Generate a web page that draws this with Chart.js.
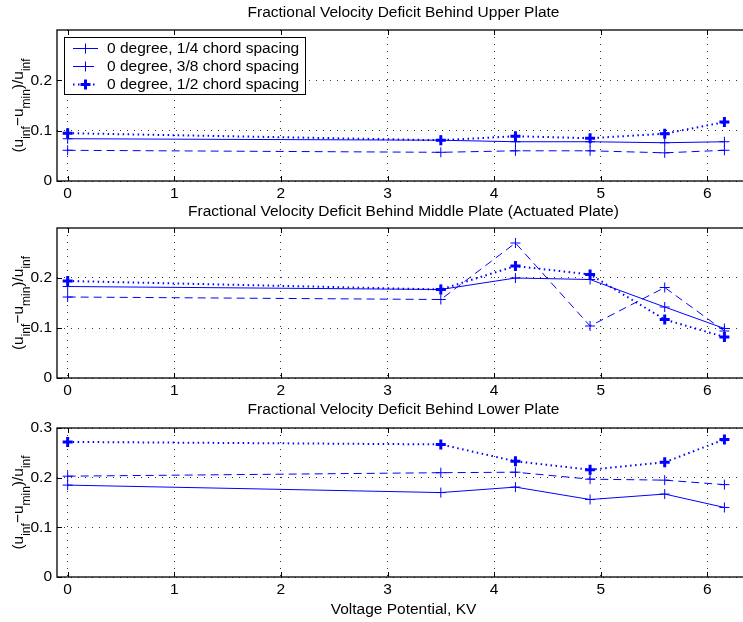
<!DOCTYPE html>
<html>
<head>
<meta charset="utf-8">
<script src="https://cdn.jsdelivr.net/npm/chart.js@4.4.1/dist/chart.umd.min.js"></script>
<style>
  body { margin: 0; background: #fff; }
  #wrap { position: relative; width: 743px; height: 622px; overflow: hidden; background: #fff; }
  canvas { position: absolute; left: 0; }
</style>
</head>
<body>
<div id="wrap">
  <canvas id="c1" width="760" height="200" style="top:0px"></canvas>
  <canvas id="c2" width="760" height="200" style="top:200px"></canvas>
  <canvas id="c3" width="760" height="222" style="top:400px"></canvas>
</div>
<script>
// voltage (KV) at which each measurement was taken
const xValues = [0, 3.5, 4.2, 4.9, 5.6, 6.16];

// upper plate
const upperQuarter = [0.084, 0.081, 0.078, 0.078, 0.076, 0.078];
const upperThreeEighth = [0.061, 0.057, 0.060, 0.060, 0.056, 0.061];
const upperHalf = [0.095, 0.081, 0.089, 0.085, 0.094, 0.117];

// middle plate (actuated)
const middleQuarter = [0.183, 0.177, 0.200, 0.197, 0.142, 0.099];
const middleThreeEighth = [0.162, 0.157, 0.270, 0.104, 0.181, 0.094];
const middleHalf = [0.194, 0.177, 0.224, 0.207, 0.117, 0.082];

// lower plate
const lowerQuarter = [0.185, 0.170, 0.181, 0.156, 0.167, 0.140];
const lowerThreeEighth = [0.203, 0.210, 0.211, 0.197, 0.195, 0.186];
const lowerHalf = [0.272, 0.267, 0.233, 0.216, 0.231, 0.277];

const seriesLabels = ['0 degree, 1/4 chord spacing', '0 degree, 3/8 chord spacing', '0 degree, 1/2 chord spacing'];
const panelTitles = [
  'Fractional Velocity Deficit Behind Upper Plate',
  'Fractional Velocity Deficit Behind Middle Plate (Actuated Plate)',
  'Fractional Velocity Deficit Behind Lower Plate'
];
const xTickValues = [0, 1, 2, 3, 4, 5, 6];
const yTicksShort = [0, 0.1, 0.2];
const yTicksLong = [0, 0.1, 0.2, 0.3];
const xAxisLabel = 'Voltage Potential, KV';

const FONT = '"Liberation Sans", Arial, Helvetica, sans-serif';
const FS = 15.5;
const BLUE = 'rgb(0,0,255)';

function toPoints(arr) {
  return xValues.map((x, i) => ({ x: x, y: arr[i] }));
}

function makeDatasets(quarter, threeEighth, half) {
  return [
    { label: seriesLabels[0], data: toPoints(quarter), borderColor: BLUE, borderWidth: 1,
      pointStyle: 'cross', pointRadius: 5, pointBorderWidth: 1, pointBorderColor: BLUE },
    { label: seriesLabels[1], data: toPoints(threeEighth), borderColor: BLUE, borderWidth: 1, borderDash: [8, 5],
      pointStyle: 'cross', pointRadius: 5, pointBorderWidth: 1, pointBorderColor: BLUE },
    { label: seriesLabels[2], data: toPoints(half), borderColor: BLUE, borderWidth: 2, borderDash: [1.5, 3.5],
      pointStyle: 'cross', pointRadius: 5, pointBorderWidth: 3, pointBorderColor: BLUE }
  ].map(d => Object.assign(d, { fill: false, tension: 0, pointHoverRadius: 5 }));
}

// frame, inward ticks, title, y label, legend
const decor = {
  id: 'decor',
  beforeDatasetsDraw(chart, args, opts) {
    const ctx = chart.ctx;
    const a = chart.chartArea;
    const xs = chart.scales.x, ys = chart.scales.y;
    ctx.save();
    ctx.strokeStyle = '#000';
    ctx.lineWidth = 1.3;
    ctx.strokeRect(a.left, a.top, a.right - a.left, a.bottom - a.top);
    ctx.lineWidth = 1;
    ctx.beginPath();
    xs.ticks.forEach(t => {
      const px = Math.round(xs.getPixelForValue(t.value)) + 0.5;
      ctx.moveTo(px, a.bottom); ctx.lineTo(px, a.bottom - 5);
      ctx.moveTo(px, a.top); ctx.lineTo(px, a.top + 5);
    });
    ys.ticks.forEach(t => {
      const py = Math.round(ys.getPixelForValue(t.value)) + 0.5;
      ctx.moveTo(a.left, py); ctx.lineTo(a.left + 5, py);
    });
    ctx.stroke();
    ctx.restore();
  },
  afterDraw(chart, args, opts) {
    const ctx = chart.ctx;
    const a = chart.chartArea;
    const cx = (a.left + a.right) / 2;
    ctx.save();
    ctx.fillStyle = '#000';
    ctx.textAlign = 'center';
    ctx.textBaseline = 'middle';
    ctx.font = FS + 'px ' + FONT;
    ctx.fillText(opts.title, cx, opts.titleY);
    if (opts.xLabel) ctx.fillText(opts.xLabel, cx, opts.xLabelY);

    // y label with subscripts
    const parts = [['(u', 0], ['inf', 1], ['\u2212u', 0], ['min', 1], [')/u', 0], ['inf', 1]];
    const big = FS + 'px ' + FONT, small = '12px ' + FONT;
    let total = 0;
    parts.forEach(p => { ctx.font = p[1] ? small : big; total += ctx.measureText(p[0]).width; });
    ctx.translate(23, (a.top + a.bottom) / 2);
    ctx.rotate(-Math.PI / 2);
    ctx.textAlign = 'left';
    ctx.textBaseline = 'alphabetic';
    let x = -total / 2;
    parts.forEach(p => {
      ctx.font = p[1] ? small : big;
      ctx.fillText(p[0], x, p[1] ? 7 : 0);
      x += ctx.measureText(p[0]).width;
    });
    ctx.restore();

    if (opts.legend) {
      const lg = opts.legend;
      ctx.save();
      ctx.fillStyle = '#fff';
      ctx.fillRect(lg.x, lg.y, lg.w, lg.h);
      ctx.strokeStyle = '#000';
      ctx.lineWidth = 1;
      ctx.strokeRect(lg.x + 0.5, lg.y + 0.5, lg.w, lg.h);
      ctx.font = FS + 'px ' + FONT;
      ctx.textBaseline = 'middle';
      chart.data.datasets.forEach((ds, i) => {
        const y = lg.y + 11.5 + i * 18;
        ctx.strokeStyle = ds.borderColor;
        ctx.lineWidth = ds.borderWidth;
        ctx.setLineDash(ds.borderDash || []);
        ctx.beginPath();
        ctx.moveTo(lg.x + 9, y); ctx.lineTo(lg.x + 34, y);
        ctx.stroke();
        ctx.setLineDash([]);
        ctx.lineWidth = ds.pointBorderWidth;
        const mx = lg.x + 21.5;
        ctx.beginPath();
        ctx.moveTo(mx - 5, y); ctx.lineTo(mx + 5, y);
        ctx.moveTo(mx, y - 5); ctx.lineTo(mx, y + 5);
        ctx.stroke();
        ctx.fillStyle = '#000';
        ctx.fillText(ds.label, lg.x + 43, y);
      });
      ctx.restore();
    }
  }
};

function makeChart(id, datasets, opt) {
  const ticksY = opt.yTicks;
  return new Chart(document.getElementById(id), {
    type: 'line',
    data: { datasets: datasets },
    plugins: [decor],
    options: {
      responsive: false,
      animation: false,
      events: [],
      layout: { padding: { top: opt.padTop, left: 0, right: 10, bottom: 0 } },
      plugins: {
        legend: { display: false },
        title: { display: false },
        tooltip: { enabled: false },
        decor: { title: opt.title, titleY: opt.titleY, xLabel: opt.xLabel, xLabelY: opt.xLabelY, legend: opt.legend }
      },
      scales: {
        x: {
          type: 'linear', min: -0.1, max: 6.4,
          afterBuildTicks: axis => { axis.ticks = xTickValues.map(v => ({ value: v })); },
          afterFit: axis => { axis.height = opt.xAxisHeight; },
          ticks: { color: '#000', font: { family: FONT, size: FS }, padding: 3, maxRotation: 0,
                   callback: v => String(v) },
          grid: { color: '#333', lineWidth: 1, drawTicks: false },
          border: { display: false, dash: [1, 6] }
        },
        y: {
          type: 'linear', min: 0, max: 0.3,
          afterBuildTicks: axis => { axis.ticks = ticksY.map(v => ({ value: v })); },
          afterFit: axis => { axis.width = 57; },
          ticks: { color: '#000', font: { family: FONT, size: FS }, padding: 5,
                   callback: v => String(Number(v.toFixed(1))) },
          grid: { color: '#333', lineWidth: 1, drawTicks: false },
          border: { display: false, dash: [1, 6] }
        }
      }
    }
  });
}

makeChart('c1', makeDatasets(upperQuarter, upperThreeEighth, upperHalf), {
  padTop: 30, xAxisHeight: 19, yTicks: yTicksShort, title: panelTitles[0], titleY: 13,
  legend: { x: 64, y: 37, w: 241, h: 57 }
});
makeChart('c2', makeDatasets(middleQuarter, middleThreeEighth, middleHalf), {
  padTop: 28, xAxisHeight: 22, yTicks: yTicksShort, title: panelTitles[1], titleY: 12
});
makeChart('c3', makeDatasets(lowerQuarter, lowerThreeEighth, lowerHalf), {
  padTop: 28, xAxisHeight: 45, yTicks: yTicksLong, title: panelTitles[2], titleY: 10,
  xLabel: xAxisLabel, xLabelY: 210
});
</script>
</body>
</html>
